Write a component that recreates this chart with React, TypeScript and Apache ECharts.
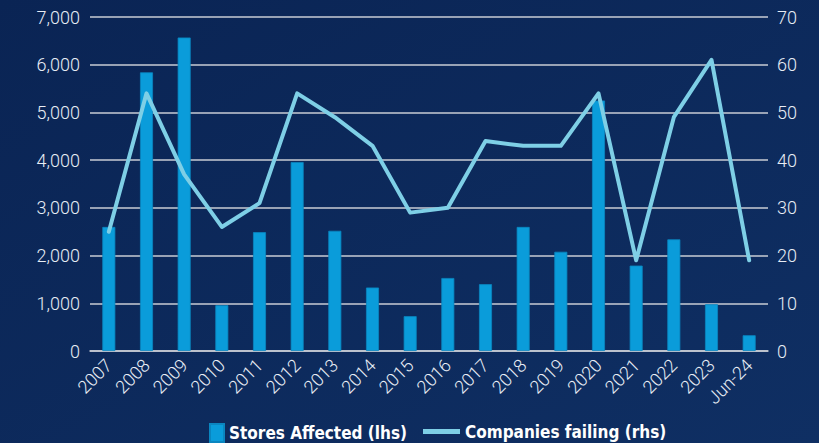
import React, { useEffect, useRef } from "react";
import * as echarts from "echarts";

const categories = ["2007","2008","2009","2010","2011","2012","2013","2014","2015","2016","2017","2018","2019","2020","2021","2022","2023","Jun-24"];
const storesAffected = [2600, 5840, 6570, 960, 2490, 3960, 2520, 1330, 730, 1530, 1400, 2600, 2080, 5250, 1790, 2340, 980, 330];
const companiesFailing = [25, 54, 37, 26, 31, 54, 49, 43, 29, 30, 44, 43, 43, 54, 19, 49, 61, 19];
const leftTicks = { min: 0, max: 7000, interval: 1000 };
const rightTicks = { min: 0, max: 70, interval: 10 };
const barName = "Stores Affected (lhs)";
const lineName = "Companies failing (rhs)";

const TICK_FONT = "Roboto, 'DejaVu Sans', sans-serif";
const LEGEND_FONT = "'DejaVu Sans Condensed', 'DejaVu Sans', sans-serif";

export default function App() {
  const ref = useRef<HTMLDivElement>(null);
  useEffect(() => {
    if (!ref.current) return;
    const chart = echarts.init(ref.current, undefined, { renderer: "svg" });
    const legendText = { color: "#ffffff", fontSize: 17, fontWeight: "bold", fontFamily: LEGEND_FONT };
    chart.setOption({
      animation: false,
      backgroundColor: {
        type: "linear", x: 0, y: 0, x2: 1, y2: 1,
        colorStops: [
          { offset: 0, color: "#0a2454" },
          { offset: 1, color: "#0f2f63" },
        ],
      },
      grid: { left: 90, right: 51, top: 17, bottom: 92, containLabel: false },
      legend: [
        {
          data: [barName],
          left: 209, top: 423, padding: 0,
          icon: "rect", itemWidth: 14, itemHeight: 18,
          textStyle: legendText,
        },
        {
          data: [lineName],
          left: 423, top: 423, padding: 0,
          icon: "rect", itemWidth: 37, itemHeight: 5,
          textStyle: legendText,
        },
      ],
      xAxis: {
        type: "category",
        data: categories,
        axisTick: { show: false },
        axisLine: { show: true, lineStyle: { color: "#c8ccd4", width: 1.5 } },
        axisLabel: { color: "#e8edf5", fontSize: 18, fontWeight: 300, rotate: 45, margin: 11, fontFamily: TICK_FONT, interval: 0 },
      },
      yAxis: [
        {
          type: "value", ...leftTicks,
          axisLabel: {
            color: "#e8edf5", fontSize: 18, fontWeight: 300, margin: 10, fontFamily: TICK_FONT,
            formatter: (v: number) => v.toLocaleString("en-US"),
          },
          splitLine: { lineStyle: { color: "#c8ccd4", width: 1.5 } },
          axisLine: { show: false }, axisTick: { show: false },
        },
        {
          type: "value", ...rightTicks,
          axisLabel: { color: "#e8edf5", fontSize: 18, fontWeight: 300, margin: 9, fontFamily: TICK_FONT },
          splitLine: { show: false },
          axisLine: { show: false }, axisTick: { show: false },
        },
      ],
      series: [
        {
          name: barName,
          type: "bar",
          data: storesAffected,
          yAxisIndex: 0,
          barWidth: 13,
          itemStyle: { color: "#0a9cda", borderColor: "#0a86c0", borderWidth: 0.8 },
        },
        {
          name: lineName,
          type: "line",
          data: companiesFailing,
          yAxisIndex: 1,
          showSymbol: false,
          symbol: "none",
          lineStyle: { color: "#7ecfe6", width: 4, join: "round", cap: "round" },
          itemStyle: { color: "#7ecfe6" },
        },
      ],
    });
    return () => chart.dispose();
  }, []);
  return <div ref={ref} style={{ position: "fixed", left: 0, top: 0, width: 819, height: 443 }} />;
}
